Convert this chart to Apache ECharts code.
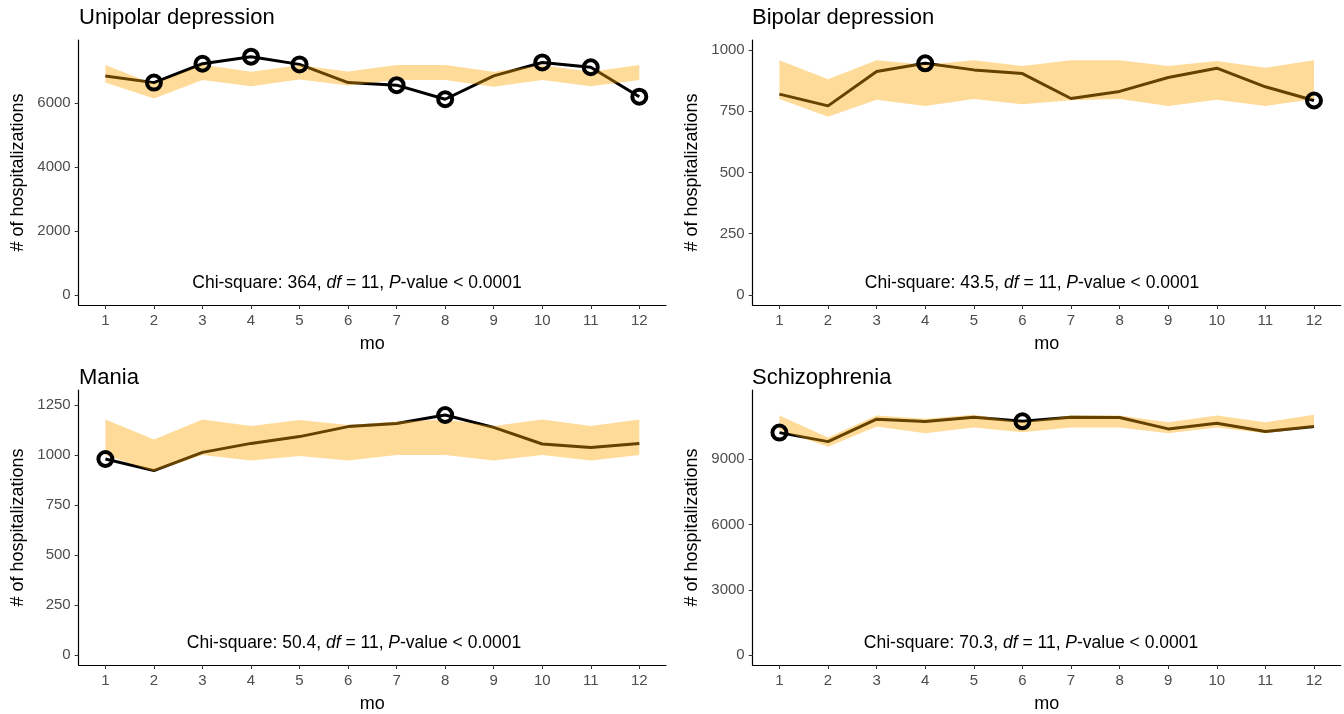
<!DOCTYPE html>
<html>
<head>
<meta charset="utf-8">
<script src="https://cdn.jsdelivr.net/npm/echarts@6/dist/echarts.min.js"></script>
<style>
html,body{margin:0;padding:0;background:#fff;}
#c{width:1344px;height:714px;}
</style>
</head>
<body>
<div id="c"></div>
<script>
// ---- data ----
const months = [1,2,3,4,5,6,7,8,9,10,11,12];

const uniObs = [6850, 6640, 7230, 7450, 7210, 6640, 6560, 6120, 6850, 7270, 7120, 6200];
const uniLo  = [6640, 6140, 6720, 6530, 6740, 6550, 6720, 6720, 6510, 6720, 6530, 6720];
const uniHi  = [7190, 6600, 7200, 6980, 7180, 6990, 7190, 7190, 6980, 7180, 6980, 7190];
const uniOut = [0,1,1,1,1,0,1,1,0,1,1,1];

const bipObs = [820, 772, 912, 946, 919, 904, 802, 831, 888, 926, 850, 794];
const bipLo  = [800, 728, 797, 772, 800, 779, 795, 800, 772, 797, 772, 800];
const bipHi  = [958, 881, 958, 940, 958, 935, 958, 958, 935, 955, 928, 958];
const bipOut = [0,0,0,1,0,0,0,0,0,0,0,1];

const manObs = [980, 922, 1013, 1058, 1092, 1142, 1158, 1200, 1138, 1055, 1038, 1058];
const manLo  = [1000, 918, 1000, 972, 995, 972, 1000, 1000, 972, 1000, 972, 1000];
const manHi  = [1178, 1078, 1178, 1145, 1175, 1150, 1167, 1178, 1145, 1178, 1145, 1178];
const manOut = [1,0,0,0,0,0,0,1,0,0,0,0];

const schObs = [10230, 9815, 10846, 10738, 10938, 10750, 10938, 10923, 10400, 10662, 10277, 10508];
const schLo  = [10354, 9585, 10508, 10200, 10462, 10250, 10462, 10462, 10200, 10462, 10200, 10462];
const schHi  = [11015, 10000, 11015, 10862, 11046, 10710, 11015, 11015, 10708, 11015, 10708, 11046];
const schOut = [1,0,0,0,0,1,0,0,0,0,0,0];

const titles = ["Unipolar depression", "Bipolar depression", "Mania", "Schizophrenia"];
const chiVals = ["364", "43.5", "50.4", "70.3"];
const yTicks = [
  [0, 2000, 4000, 6000],
  [0, 250, 500, 750, 1000],
  [0, 250, 500, 750, 1000, 1250],
  [0, 3000, 6000, 9000]
];
const yRanges = [[-311, 7972], [-41, 1041], [-50, 1325], [-460, 12190]];

// ---- layout ----
const FONT = "'Liberation Sans', Arial, sans-serif";
const BAND = 'rgba(255,165,0,0.4)';
const panels = [
  {obs: uniObs, lo: uniLo, hi: uniHi, out: uniOut, grid: {left: 78.7, top: 40, width: 587.3, height: 265}, title: [79, 7], note: [357, 283]},
  {obs: bipObs, lo: bipLo, hi: bipHi, out: bipOut, grid: {left: 752.7, top: 40, width: 588, height: 265}, title: [752, 7], note: [1032, 283]},
  {obs: manObs, lo: manLo, hi: manHi, out: manOut, grid: {left: 78.7, top: 390, width: 587.3, height: 275}, title: [79, 367], note: [354, 643]},
  {obs: schObs, lo: schLo, hi: schHi, out: schOut, grid: {left: 752.7, top: 390, width: 588, height: 275}, title: [752, 367], note: [1031, 643]}
];

const grids = [], xAxes = [], yAxes = [], series = [], titleCfg = [], graphics = [];

panels.forEach((p, i) => {
  grids.push(Object.assign({containLabel: false}, p.grid));
  xAxes.push({
    type: 'value', gridIndex: i, min: 0.45, max: 12.55,
    name: 'mo', nameLocation: 'middle', nameGap: 30,
    nameTextStyle: {fontFamily: FONT, fontSize: 18, color: '#000'},
    axisLine: {show: true, onZero: false, lineStyle: {color: '#000', width: 1.2}},
    axisTick: {show: true, length: 4, customValues: months, lineStyle: {color: '#333', width: 1}},
    axisLabel: {customValues: months, fontFamily: FONT, fontSize: 15, color: '#4d4d4d', margin: 8,
      formatter: v => String(v)},
    splitLine: {show: false}
  });
  yAxes.push({
    type: 'value', gridIndex: i, min: yRanges[i][0], max: yRanges[i][1],
    name: '# of hospitalizations', nameLocation: 'middle', nameGap: 52, nameRotate: 90,
    nameTextStyle: {fontFamily: FONT, fontSize: 18, color: '#000'},
    axisLine: {show: true, onZero: false, lineStyle: {color: '#000', width: 1.2}},
    axisTick: {show: true, length: 4, customValues: yTicks[i], lineStyle: {color: '#333', width: 1}},
    axisLabel: {customValues: yTicks[i], fontFamily: FONT, fontSize: 15, color: '#4d4d4d', margin: 8,
      formatter: v => String(v)},
    splitLine: {show: false}
  });

  // observed line (below the ribbon)
  series.push({
    type: 'line', xAxisIndex: i, yAxisIndex: i, z: 2,
    data: months.map((m, k) => [m, p.obs[k]]),
    showSymbol: false, symbol: 'none',
    lineStyle: {color: '#000', width: 3},
    silent: true, animation: false
  });
  // ribbon between lower and upper expected bounds
  series.push({
    type: 'custom', xAxisIndex: i, yAxisIndex: i, z: 3,
    data: months.map((m, k) => [m, p.lo[k], p.hi[k]]),
    encode: {x: 0, y: [1, 2]},
    renderItem: (params, api) => {
      if (params.dataIndex !== 0) return null;
      const pts = [];
      for (let k = 0; k < months.length; k++) pts.push(api.coord([months[k], p.lo[k]]));
      for (let k = months.length - 1; k >= 0; k--) pts.push(api.coord([months[k], p.hi[k]]));
      return {type: 'polygon', shape: {points: pts}, style: {fill: BAND, stroke: null}};
    },
    silent: true, animation: false
  });
  // outlier circles
  series.push({
    type: 'scatter', xAxisIndex: i, yAxisIndex: i, z: 4,
    data: months.filter((m, k) => p.out[k]).map(m => [m, p.obs[m - 1]]),
    symbol: 'circle', symbolSize: 14,
    itemStyle: {color: 'rgba(0,0,0,0)', borderColor: '#000', borderWidth: 4, opacity: 1},
    silent: true, animation: false
  });

  titleCfg.push({
    text: titles[i], left: p.title[0], top: p.title[1], padding: 0,
    textStyle: {fontFamily: FONT, fontSize: 22, fontWeight: 'normal', color: '#000'}
  });

  graphics.push({
    type: 'text', x: p.note[0], y: p.note[1], silent: true, z: 10,
    style: {
      text: '{n|Chi-square: ' + chiVals[i] + ', }{i|df}{n| = 11, }{i|P}{n|-value < 0.0001}',
      align: 'center', verticalAlign: 'middle',
      rich: {
        n: {fontFamily: FONT, fontSize: 17.5, fill: '#000', fontStyle: 'normal'},
        i: {fontFamily: FONT, fontSize: 17.5, fill: '#000', fontStyle: 'italic'}
      }
    }
  });
});

const chart = echarts.init(document.getElementById('c'), null, {renderer: 'canvas'});
chart.setOption({
  backgroundColor: '#fff',
  animation: false,
  title: titleCfg,
  grid: grids,
  xAxis: xAxes,
  yAxis: yAxes,
  series: series,
  graphic: graphics
});
</script>
</body>
</html>
